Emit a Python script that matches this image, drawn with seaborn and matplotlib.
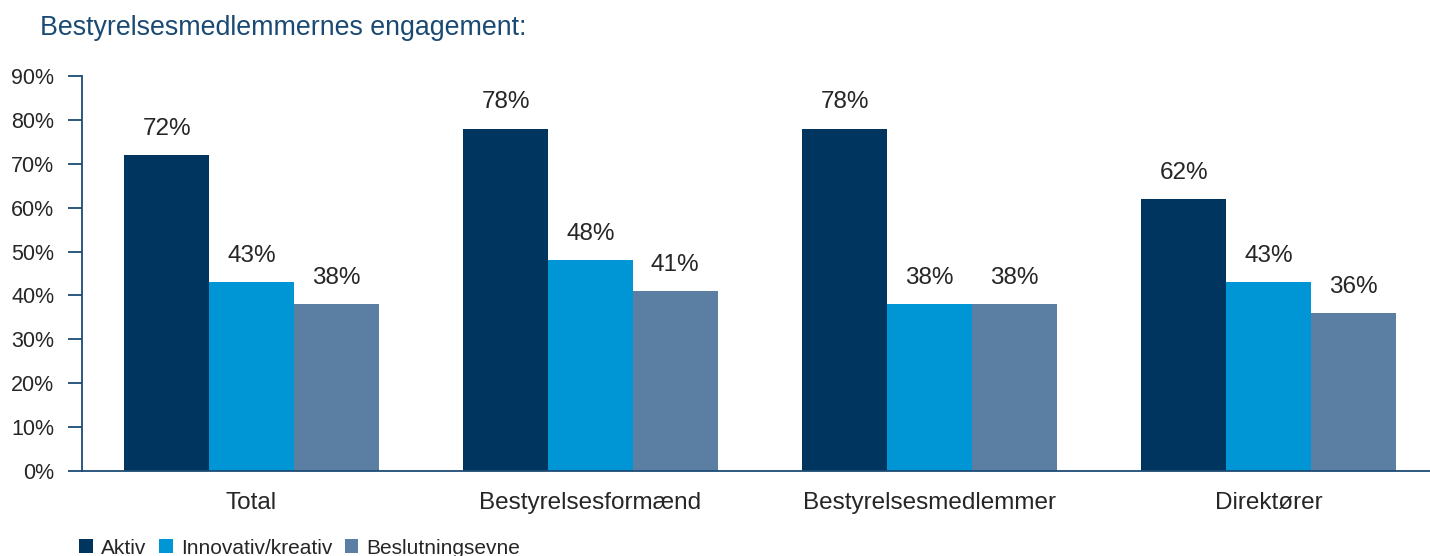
import matplotlib
matplotlib.use("Agg")
import matplotlib.pyplot as plt
from matplotlib.patches import Patch
from matplotlib.ticker import PercentFormatter
import seaborn as sns
import pandas as pd

categories = ["Total", "Bestyrelsesformænd", "Bestyrelsesmedlemmer", "Direktører"]
series_names = ["Aktiv", "Innovativ/kreativ", "Beslutningsevne"]
aktiv = [72, 78, 78, 62]
innovativ = [43, 48, 38, 43]
beslutning = [38, 41, 38, 36]
y_ticks = [0, 10, 20, 30, 40, 50, 60, 70, 80, 90]
title = "Bestyrelsesmedlemmernes engagement:"

colors = ["#00355f", "#0095d5", "#5b7fa3"]
axis_color = "#1d4b74"
text_color = "#262626"

rows = []
for name, vals in zip(series_names, [aktiv, innovativ, beslutning]):
    for cat, v in zip(categories, vals):
        rows.append({"Gruppe": cat, "Serie": name, "Andel": v})
df = pd.DataFrame(rows)

sns.set_style("white")
plt.rcParams["font.family"] = ["Liberation Sans", "DejaVu Sans"]

fig = plt.figure(figsize=(14.3, 5.56), dpi=100)
ax = fig.add_axes([82 / 1430, 1 - 471 / 556, (1438 - 82) / 1430, (471 - 76) / 556])

sns.barplot(data=df, x="Gruppe", y="Andel", hue="Serie", order=categories,
            hue_order=series_names, palette=colors, width=0.75, saturation=1,
            edgecolor="none", linewidth=0, ax=ax, legend=False)

for cont in ax.containers:
    ax.bar_label(cont, labels=[f"{int(round(b.get_height()))}%" for b in cont],
                 padding=11, fontsize=17.5, color=text_color)

ax.set_xlim(-0.5, len(categories) - 0.5)
ax.set_ylim(0, 90)
ax.set_yticks(y_ticks)
ax.yaxis.set_major_formatter(PercentFormatter(decimals=0))
ax.set_xlabel("")
ax.set_ylabel("")

# group separators as minor ticks along the category axis
ax.set_xticks([i - 0.5 for i in range(len(categories) + 1)], minor=True)
ax.tick_params(axis="x", which="major", length=0, pad=15, labelsize=17.5, colors=text_color)
ax.tick_params(axis="x", which="minor", length=7, width=1.3, color=axis_color, direction="out")
ax.tick_params(axis="y", which="major", length=10, width=1.3, color=axis_color,
               direction="out", labelsize=15.5, labelcolor=text_color, left=True, pad=10)

for s in ["top", "right"]:
    ax.spines[s].set_visible(False)
for s in ["left", "bottom"]:
    ax.spines[s].set_color(axis_color)
    ax.spines[s].set_linewidth(1.3)

fig.text(40 / 1430, 1 - 28 / 556, title, fontsize=19.3, color="#1a4a73", va="center", ha="left")

handles = [Patch(facecolor=c, edgecolor="none", label=n) for c, n in zip(colors, series_names)]
fig.legend(handles=handles, loc="center left", bbox_to_anchor=(71 / 1430, 1 - 548 / 556),
           ncol=3, frameon=False, fontsize=15, handlelength=0.65, handleheight=0.65,
           handletextpad=0.4, columnspacing=0.6, borderaxespad=0, labelcolor=text_color)

fig.savefig("out.png", dpi=100)
